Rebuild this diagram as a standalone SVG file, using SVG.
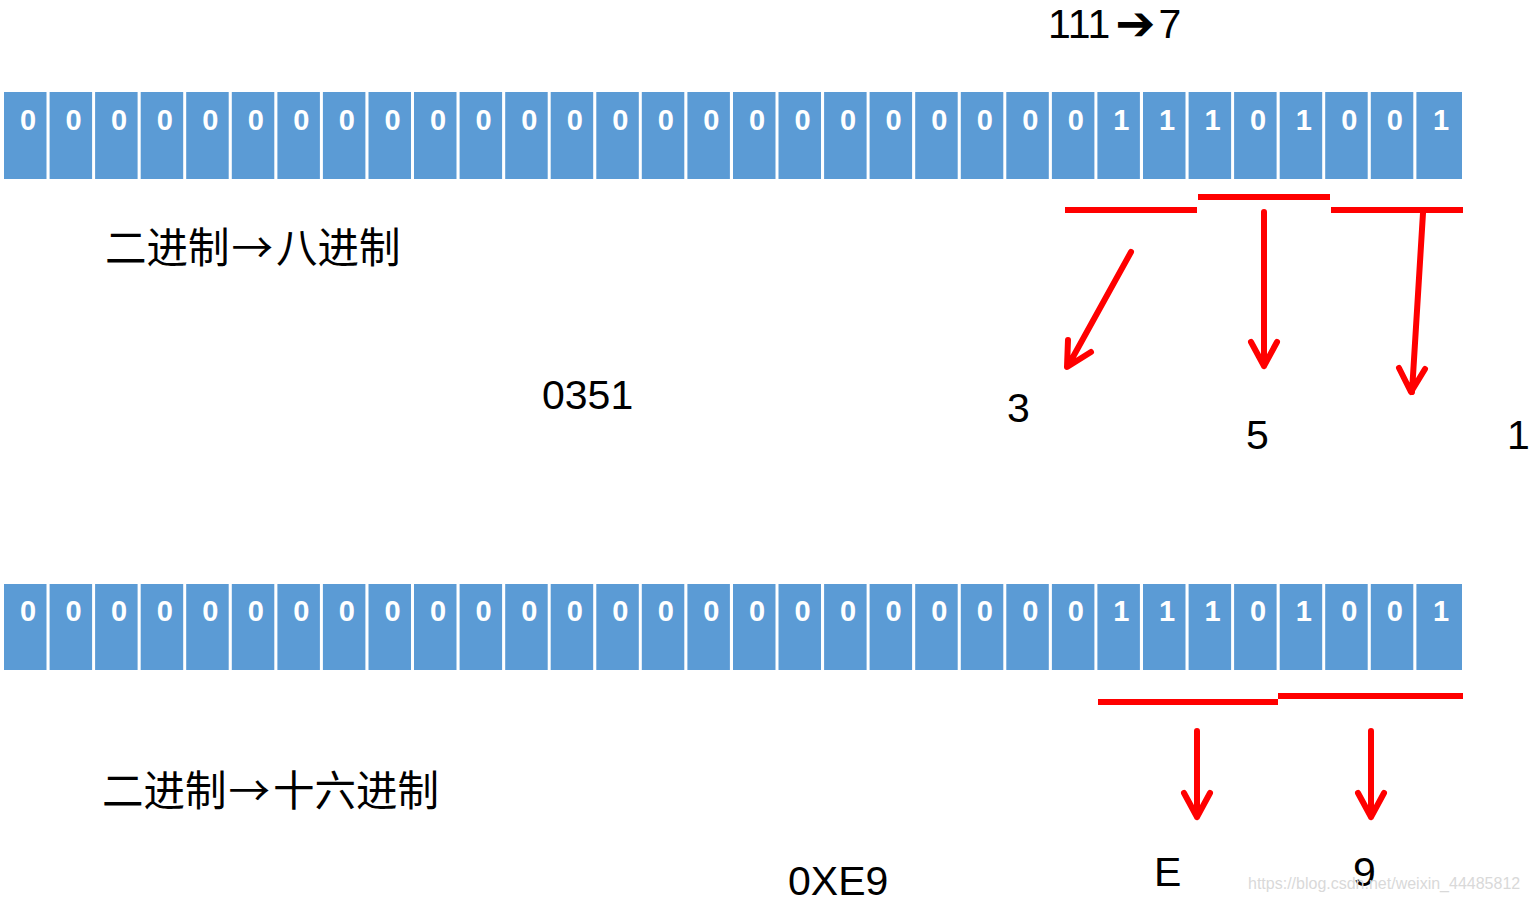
<svg xmlns="http://www.w3.org/2000/svg" width="1529" height="901" viewBox="0 0 1529 901">
<style>
.cell{fill:#5b9bd5}
.bit{fill:#fff;font-family:"Liberation Sans",Arial,sans-serif;font-weight:bold;font-size:29px;text-anchor:middle}
.lbl{fill:#000;font-family:"Liberation Sans",Arial,sans-serif;font-size:41px}
.cjk{fill:#000;font-family:"Noto Sans CJK SC","Noto Sans",sans-serif;font-size:41.5px}
.red{stroke:#ff0000;stroke-width:6;fill:none}
.arr{stroke:#ff0000;stroke-width:6;fill:none;stroke-linecap:round;stroke-linejoin:round}
</style>
<rect width="1529" height="901" fill="#fff"/>
<g id="row1">
<rect class="cell" x="4" y="92" width="42.5" height="87"/><rect class="cell" x="49.6" y="92" width="42.5" height="87"/><rect class="cell" x="95.1" y="92" width="42.5" height="87"/><rect class="cell" x="140.7" y="92" width="42.5" height="87"/><rect class="cell" x="186.2" y="92" width="42.5" height="87"/><rect class="cell" x="231.8" y="92" width="42.5" height="87"/><rect class="cell" x="277.4" y="92" width="42.5" height="87"/><rect class="cell" x="322.9" y="92" width="42.5" height="87"/><rect class="cell" x="368.5" y="92" width="42.5" height="87"/><rect class="cell" x="414" y="92" width="42.5" height="87"/><rect class="cell" x="459.6" y="92" width="42.5" height="87"/><rect class="cell" x="505.2" y="92" width="42.5" height="87"/><rect class="cell" x="550.7" y="92" width="42.5" height="87"/><rect class="cell" x="596.3" y="92" width="42.5" height="87"/><rect class="cell" x="641.8" y="92" width="42.5" height="87"/><rect class="cell" x="687.4" y="92" width="42.5" height="87"/><rect class="cell" x="733" y="92" width="42.5" height="87"/><rect class="cell" x="778.5" y="92" width="42.5" height="87"/><rect class="cell" x="824.1" y="92" width="42.5" height="87"/><rect class="cell" x="869.6" y="92" width="42.5" height="87"/><rect class="cell" x="915.2" y="92" width="42.5" height="87"/><rect class="cell" x="960.8" y="92" width="42.5" height="87"/><rect class="cell" x="1006.3" y="92" width="42.5" height="87"/><rect class="cell" x="1051.9" y="92" width="42.5" height="87"/><rect class="cell" x="1097.4" y="92" width="42.5" height="87"/><rect class="cell" x="1143" y="92" width="42.5" height="87"/><rect class="cell" x="1188.6" y="92" width="42.5" height="87"/><rect class="cell" x="1234.1" y="92" width="42.5" height="87"/><rect class="cell" x="1279.7" y="92" width="42.5" height="87"/><rect class="cell" x="1325.2" y="92" width="42.5" height="87"/><rect class="cell" x="1370.8" y="92" width="42.5" height="87"/><rect class="cell" x="1416.4" y="92" width="45.6" height="87"/>
<text class="bit" y="130"><tspan x="28">0</tspan><tspan x="73.6">0</tspan><tspan x="119.1">0</tspan><tspan x="164.7">0</tspan><tspan x="210.2">0</tspan><tspan x="255.8">0</tspan><tspan x="301.4">0</tspan><tspan x="346.9">0</tspan><tspan x="392.5">0</tspan><tspan x="438">0</tspan><tspan x="483.6">0</tspan><tspan x="529.2">0</tspan><tspan x="574.7">0</tspan><tspan x="620.3">0</tspan><tspan x="665.8">0</tspan><tspan x="711.4">0</tspan><tspan x="757">0</tspan><tspan x="802.5">0</tspan><tspan x="848.1">0</tspan><tspan x="893.6">0</tspan><tspan x="939.2">0</tspan><tspan x="984.8">0</tspan><tspan x="1030.3">0</tspan><tspan x="1075.9">0</tspan><tspan x="1121.4">1</tspan><tspan x="1167">1</tspan><tspan x="1212.6">1</tspan><tspan x="1258.1">0</tspan><tspan x="1303.7">1</tspan><tspan x="1349.2">0</tspan><tspan x="1394.8">0</tspan><tspan x="1441">1</tspan></text>
</g>
<g id="row2">
<rect class="cell" x="4" y="584" width="42.5" height="86"/><rect class="cell" x="49.6" y="584" width="42.5" height="86"/><rect class="cell" x="95.1" y="584" width="42.5" height="86"/><rect class="cell" x="140.7" y="584" width="42.5" height="86"/><rect class="cell" x="186.2" y="584" width="42.5" height="86"/><rect class="cell" x="231.8" y="584" width="42.5" height="86"/><rect class="cell" x="277.4" y="584" width="42.5" height="86"/><rect class="cell" x="322.9" y="584" width="42.5" height="86"/><rect class="cell" x="368.5" y="584" width="42.5" height="86"/><rect class="cell" x="414" y="584" width="42.5" height="86"/><rect class="cell" x="459.6" y="584" width="42.5" height="86"/><rect class="cell" x="505.2" y="584" width="42.5" height="86"/><rect class="cell" x="550.7" y="584" width="42.5" height="86"/><rect class="cell" x="596.3" y="584" width="42.5" height="86"/><rect class="cell" x="641.8" y="584" width="42.5" height="86"/><rect class="cell" x="687.4" y="584" width="42.5" height="86"/><rect class="cell" x="733" y="584" width="42.5" height="86"/><rect class="cell" x="778.5" y="584" width="42.5" height="86"/><rect class="cell" x="824.1" y="584" width="42.5" height="86"/><rect class="cell" x="869.6" y="584" width="42.5" height="86"/><rect class="cell" x="915.2" y="584" width="42.5" height="86"/><rect class="cell" x="960.8" y="584" width="42.5" height="86"/><rect class="cell" x="1006.3" y="584" width="42.5" height="86"/><rect class="cell" x="1051.9" y="584" width="42.5" height="86"/><rect class="cell" x="1097.4" y="584" width="42.5" height="86"/><rect class="cell" x="1143" y="584" width="42.5" height="86"/><rect class="cell" x="1188.6" y="584" width="42.5" height="86"/><rect class="cell" x="1234.1" y="584" width="42.5" height="86"/><rect class="cell" x="1279.7" y="584" width="42.5" height="86"/><rect class="cell" x="1325.2" y="584" width="42.5" height="86"/><rect class="cell" x="1370.8" y="584" width="42.5" height="86"/><rect class="cell" x="1416.4" y="584" width="45.6" height="86"/>
<text class="bit" y="621"><tspan x="28">0</tspan><tspan x="73.6">0</tspan><tspan x="119.1">0</tspan><tspan x="164.7">0</tspan><tspan x="210.2">0</tspan><tspan x="255.8">0</tspan><tspan x="301.4">0</tspan><tspan x="346.9">0</tspan><tspan x="392.5">0</tspan><tspan x="438">0</tspan><tspan x="483.6">0</tspan><tspan x="529.2">0</tspan><tspan x="574.7">0</tspan><tspan x="620.3">0</tspan><tspan x="665.8">0</tspan><tspan x="711.4">0</tspan><tspan x="757">0</tspan><tspan x="802.5">0</tspan><tspan x="848.1">0</tspan><tspan x="893.6">0</tspan><tspan x="939.2">0</tspan><tspan x="984.8">0</tspan><tspan x="1030.3">0</tspan><tspan x="1075.9">0</tspan><tspan x="1121.4">1</tspan><tspan x="1167">1</tspan><tspan x="1212.6">1</tspan><tspan x="1258.1">0</tspan><tspan x="1303.7">1</tspan><tspan x="1349.2">0</tspan><tspan x="1394.8">0</tspan><tspan x="1441">1</tspan></text>
</g>
<g id="connectors">
<line class="red" x1="1065" y1="210" x2="1197" y2="210"/>
<line class="red" x1="1198" y1="197" x2="1330" y2="197"/>
<line class="red" x1="1331" y1="210" x2="1463" y2="210"/>
<path class="arr" d="M1131 252 L1068 366 M1068 340 L1067 367 L1091 352"/>
<path class="arr" d="M1264 212 L1264 366 M1251 342 L1264 366 L1277 342"/>
<path class="arr" d="M1423 213 L1412 392 M1399 368 L1411 392 L1425 369"/>
<line class="red" x1="1098" y1="702" x2="1278" y2="702"/>
<line class="red" x1="1278" y1="696" x2="1463" y2="696"/>
<path class="arr" d="M1197 731 L1197 817 M1184 793 L1197 817 L1210 793"/>
<path class="arr" d="M1371 731 L1371 817 M1358 793 L1371 817 L1384 793"/>
</g>
<g id="labels">
<text class="lbl" x="1048" y="38" font-size="38">111<tspan dx="5" font-family="'DejaVu Sans',sans-serif" font-weight="bold" font-size="48" dy="2">➔</tspan><tspan dx="3" dy="-2">7</tspan></text>
<text class="cjk" x="105" y="263">二进制<tspan dx="2">→</tspan><tspan dx="3">八进制</tspan></text>
<text class="cjk" x="102" y="806">二进制<tspan dx="2">→</tspan><tspan dx="3">十六进制</tspan></text>
<text class="lbl" x="542" y="409">0351</text>
<text class="lbl" x="1007" y="422">3</text>
<text class="lbl" x="1246" y="449">5</text>
<text class="lbl" x="1507" y="449">1</text>
<text class="lbl" x="788" y="895">0XE9</text>
<text class="lbl" x="1154" y="886">E</text>
<text class="lbl" x="1353" y="886">9</text>
<text x="1248" y="889" font-family="'Liberation Sans',Arial,sans-serif" font-size="16" fill="#d9d9d9">https://blog.csdn.net/weixin_44485812</text>
</g>
</svg>
